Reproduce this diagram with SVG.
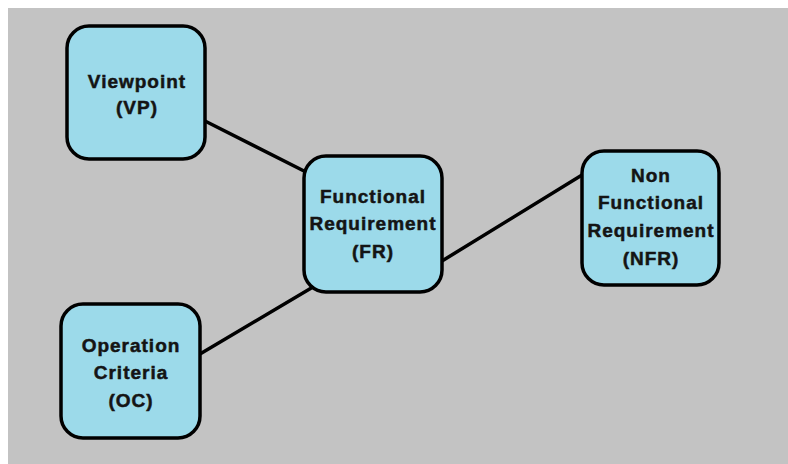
<svg xmlns="http://www.w3.org/2000/svg" width="788" height="464" viewBox="0 0 788 464">
  <style>
    .node rect { fill: #9CDAEA; stroke: #000; stroke-width: 3.5; }
    .node text { font-family: "Liberation Sans", Arial, sans-serif; font-weight: bold; font-size: 19px; letter-spacing: 1px; fill: #141414; stroke: #141414; stroke-width: 0.5; text-anchor: middle; }
    .edges line { stroke: #000; stroke-width: 3.5; stroke-linecap: round; }
  </style>
  <rect x="0" y="0" width="788" height="464" fill="#ffffff"/>
  <rect x="8" y="8" width="780" height="456" fill="#C3C3C3"/>

  <g class="edges">
    <line x1="205" y1="121" x2="304" y2="171"/>
    <line x1="200" y1="354" x2="313" y2="287"/>
    <line x1="442" y1="261" x2="582" y2="175"/>
  </g>

  <g id="vp" class="node">
    <rect x="67" y="26" width="138" height="133" rx="22"/>
    <text x="137" y="88">Viewpoint</text>
    <text x="137" y="114">(VP)</text>
  </g>

  <g id="fr" class="node">
    <rect x="304" y="156" width="138" height="136" rx="22"/>
    <text x="373" y="203">Functional</text>
    <text x="373" y="230">Requirement</text>
    <text x="373" y="258">(FR)</text>
  </g>

  <g id="nfr" class="node">
    <rect x="582" y="151" width="137" height="134" rx="22"/>
    <text x="651" y="182">Non</text>
    <text x="651" y="209">Functional</text>
    <text x="651" y="237">Requirement</text>
    <text x="651" y="265">(NFR)</text>
  </g>

  <g id="oc" class="node">
    <rect x="61" y="304" width="139" height="134" rx="22"/>
    <text x="131" y="352">Operation</text>
    <text x="131" y="379">Criteria</text>
    <text x="131" y="407">(OC)</text>
  </g>
</svg>
